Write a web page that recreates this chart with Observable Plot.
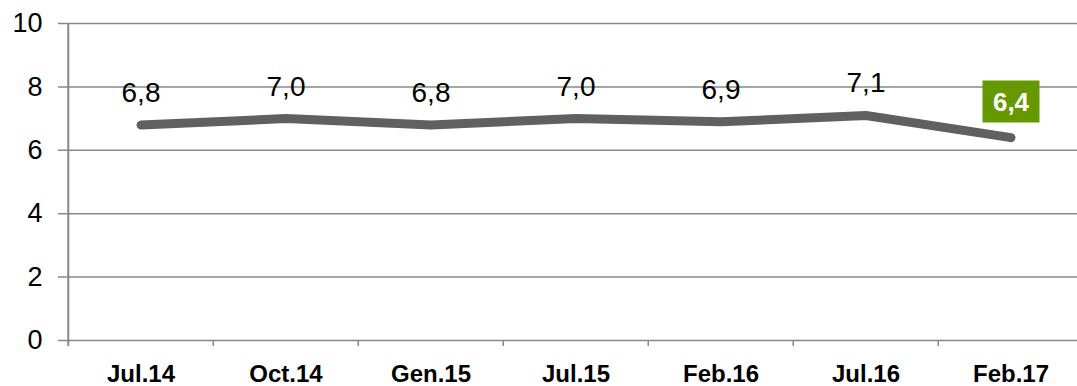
<!DOCTYPE html>
<html><head><meta charset="utf-8">
<script src="https://cdn.jsdelivr.net/npm/d3@7"></script>
<script src="https://cdn.jsdelivr.net/npm/@observablehq/plot@0.6"></script>
<style>html,body{margin:0;padding:0;background:#fff;overflow:hidden}svg{display:block}</style>
</head><body><div id="chart"></div>
<script>
const categories = ["Jul.14", "Oct.14", "Gen.15", "Jul.15", "Feb.16", "Jul.16", "Feb.17"];
const values = [6.8, 7.0, 6.8, 7.0, 6.9, 7.1, 6.4];
const yTicks = [0, 2, 4, 6, 8, 10];
const highlightIndex = 6;

const data = categories.map((c, i) => ({category: c, value: values[i], label: values[i].toFixed(1).replace(".", ",")}));
const normal = data.filter((d, i) => i !== highlightIndex);
const hl = [data[highlightIndex]];

const W = 1077, H = 386, ML = 66, MR = -7.5;
const step = (W - MR - ML) / categories.length;
const gridColor = "#888888";
const boxSymbol = {draw(ctx) { ctx.rect(-28.5, -21, 57, 42); }};

const chart = Plot.plot({
  width: W, height: H,
  marginLeft: ML, marginRight: MR, marginTop: 23, marginBottom: 46,
  style: {fontFamily: "Arial, 'Liberation Sans', sans-serif", background: "#fff", color: "#000", overflow: "hidden"},
  x: {type: "band", domain: categories, padding: 0, label: null},
  y: {domain: [0, 10], label: null},
  marks: [
    Plot.ruleY(yTicks, {stroke: gridColor, strokeWidth: 1.5, insetLeft: -8}),
    Plot.ruleX(categories.slice(1), {x: d => d, y1: 0, y2: 0, dx: -step / 2, insetBottom: -6, stroke: gridColor, strokeWidth: 1.5}),
    Plot.ruleX([categories[0]], {x: d => d, dx: -step / 2, insetBottom: -6, stroke: gridColor, strokeWidth: 2}),
    Plot.axisY({ticks: yTicks, tickSize: 0, tickPadding: 24, fontSize: 27, tickFormat: d => String(d)}),
    Plot.axisX({tickSize: 0, tickPadding: 24, fontSize: 24, fontWeight: "bold"}),
    Plot.line(data, {x: "category", y: "value", stroke: "#606060", strokeWidth: 9, strokeLinecap: "round", strokeLinejoin: "round"}),
    Plot.text(normal, {x: "category", y: "value", text: "label", dy: -32, fontSize: 28, fill: "#000"}),
    Plot.dot(hl, {x: "category", y: "value", symbol: boxSymbol, r: 20, fill: "#669900", stroke: "none", dy: -36}),
    Plot.text(hl, {x: "category", y: "value", text: "label", dy: -35, fontSize: 26, fontWeight: "bold", fill: "#fff"})
  ]
});
document.getElementById("chart").appendChild(chart);
</script>
</body></html>
